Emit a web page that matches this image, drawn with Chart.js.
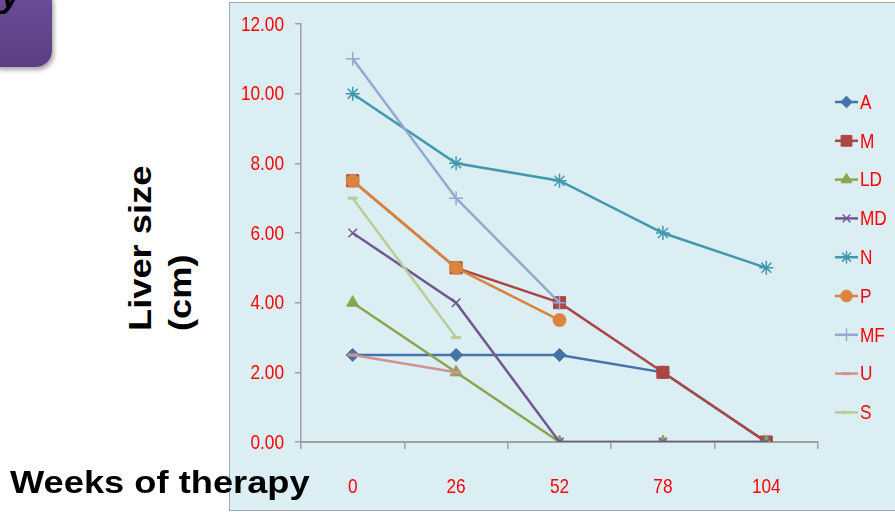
<!DOCTYPE html>
<html>
<head>
<meta charset="utf-8">
<script src="https://cdn.jsdelivr.net/npm/chart.js@4.4.0/dist/chart.umd.min.js"></script>
<style>
  body { margin: 0; width: 895px; height: 512px; background: #fff; position: relative; overflow: hidden; font-family: 'Liberation Sans', Arial, sans-serif; }
  #badge { position: absolute; left: -14px; top: -14px; width: 66px; height: 81px; border-radius: 16px;
    background: linear-gradient(#6c4d98, #5b3f82); box-shadow: 2px 3px 4px rgba(0,0,0,0.35); overflow: hidden; }
  #badge span { position: absolute; left: 15px; top: -10px; font: italic bold 34px 'Liberation Sans', Arial; color: #000; }
  #frame { position: absolute; left: 229px; top: 2px; width: 670px; height: 507px; background: #dbeef3;
    border-left: 1px solid #a6a6a6; border-top: 1px solid #a6a6a6; border-bottom: 1px solid #a6a6a6; }
  #chartBox { position: absolute; left: 230px; top: 3px; }
  .ylab { position: absolute; left: 121px; top: 331px; transform-origin: 0 0; transform: rotate(-90deg) scaleX(1.17);
    font: bold 31px 'Liberation Sans', Arial; color: #000; line-height: 40px; white-space: nowrap; }
  #xlab { position: absolute; left: 10px; top: 465px; transform-origin: 0 0; transform: scaleX(1.17);
    font: bold 31px 'Liberation Sans', Arial; color: #000; white-space: nowrap; }
</style>
</head>
<body>
<div id="badge"><span>y</span></div>
<div id="frame"></div>
<div id="chartBox"><canvas id="myChart" width="665" height="507"></canvas></div>
<div class="ylab">Liver size<br>(cm)</div>
<div id="xlab">Weeks of therapy</div>
<script>
// chart data ----------------------------------------------------------
const weeks = ['0', '26', '52', '78', '104'];
const seriesNames = ['A', 'M', 'LD', 'MD', 'N', 'P', 'MF', 'U', 'S'];
const valuesA = [2.5, 2.5, 2.5, 2, 0];
const valuesM = [7.5, 5, 4, 2, 0];
const valuesLD = [4, 2, 0, 0, 0];
const valuesMD = [6, 4, 0, 0, 0];
const valuesN = [10, 8, 7.5, 6, 5];
const valuesP = [7.5, 5, 3.5, null, null];
const valuesMF = [11, 7, 4, null, null];
const valuesU = [2.5, 2, null, null, null];
const valuesS = [7, 3, null, null, null];
const yTicks = [0, 2, 4, 6, 8, 10, 12];

const allValues = [valuesA, valuesM, valuesLD, valuesMD, valuesN, valuesP, valuesMF, valuesU, valuesS];
const colors = ['#4572a7', '#aa4643', '#89a54e', '#71588f', '#4198af', '#db843d', '#93a9cf', '#d19392', '#b9cd96'];
const markers = ['rectRot', 'rect', 'triangle', 'crossRot', 'star', 'circle', 'cross', 'line', 'line'];
const radii = [6.5, 8.5, 7, 6, 7, 6.5, 7, 5, 5];

// narrow look of the labels: regular font squeezed sideways
const LABEL_FONT = "21px 'Liberation Sans', Arial";
const SQUEEZE = 0.82;

function narrowText(ctx, text, x, y, align) {
    ctx.save();
    ctx.font = LABEL_FONT;
    ctx.fillStyle = '#ff0000';
    ctx.textBaseline = 'middle';
    ctx.textAlign = align;
    ctx.translate(x, y);
    ctx.scale(SQUEEZE, 1);
    ctx.fillText(text, 0, 0);
    ctx.restore();
}

let datasets = seriesNames.map((name, i) => ({
    label: name,
    data: allValues[i],
    borderColor: colors[i],
    backgroundColor: colors[i],
    borderWidth: 2.5,
    pointStyle: markers[i],
    pointRadius: radii[i],
    pointHoverRadius: radii[i],
    pointBorderColor: colors[i],
    pointBackgroundColor: colors[i],
    pointBorderWidth: (markers[i] == 'cross' || markers[i] == 'crossRot' || markers[i] == 'star') ? 1.5 : (markers[i] == 'line' ? 3 : 1),
    tension: 0,
    spanGaps: false,
    order: seriesNames.length - i
}));

// tick labels and legend drawn by hand
const labelPlugin = {
    id: 'narrowLabels',
    afterDraw(chart) {
        const ctx = chart.ctx;
        const xs = chart.scales.x;
        const ys = chart.scales.y;
        weeks.forEach((w, i) => {
            narrowText(ctx, w, xs.getPixelForValue(i), 484, 'center');
        });
        yTicks.forEach((v) => {
            narrowText(ctx, v.toFixed(2), 54, ys.getPixelForValue(v) + 1, 'right');
        });

        // legend: line + marker + red text
        seriesNames.forEach((name, i) => {
            let y = 99 + i * 38.8;
            ctx.save();
            ctx.strokeStyle = colors[i];
            ctx.lineWidth = 2.5;
            ctx.beginPath();
            ctx.moveTo(605, y);
            ctx.lineTo(628, y);
            ctx.stroke();
            ctx.fillStyle = colors[i];
            ctx.lineWidth = datasets[i].pointBorderWidth;
            Chart.helpers.drawPoint(ctx, { pointStyle: markers[i], radius: radii[i] * 0.9, rotation: 0, borderWidth: datasets[i].pointBorderWidth }, 616.5, y);
            ctx.restore();
            narrowText(ctx, name, 630, y + 1, 'left');
        });
    }
};

const config = {
    type: 'line',
    data: { labels: weeks, datasets: datasets },
    options: {
        responsive: false,
        animation: false,
        devicePixelRatio: 1,
        layout: { padding: { top: 21, right: 77, left: 0, bottom: 0 } },
        plugins: { legend: { display: false }, tooltip: { enabled: false } },
        scales: {
            x: {
                type: 'category',
                offset: true,
                grid: { display: true, drawOnChartArea: false, offset: true, tickLength: 7, color: '#a0a0a0', lineWidth: 1.5 },
                border: { color: '#a0a0a0', width: 2 },
                ticks: { color: 'rgba(0,0,0,0)', padding: 28, maxRotation: 0 },
                afterFit: (s) => { s.height = 68; }
            },
            y: {
                min: 0,
                max: 12,
                afterBuildTicks: (s) => { s.ticks = yTicks.map(v => ({ value: v })); },
                grid: { display: true, drawOnChartArea: false, tickLength: 6, color: '#a0a0a0', lineWidth: 1.5 },
                border: { color: '#a0a0a0', width: 1.5 },
                ticks: { color: 'rgba(0,0,0,0)', padding: 10 },
                afterFit: (s) => { s.width = 71; }
            }
        }
    },
    plugins: [labelPlugin]
};

let myChart = new Chart(document.getElementById('myChart'), config);
</script>
</body>
</html>
